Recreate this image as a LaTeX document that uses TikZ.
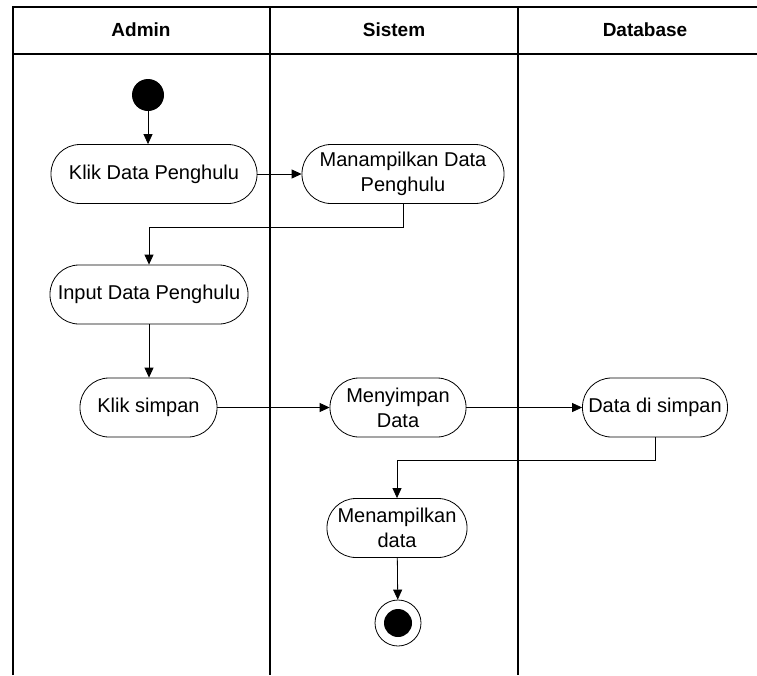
\documentclass[tikz,border=0pt]{standalone}
\usepackage{fontspec}
\setmainfont{Liberation Sans}
\usetikzlibrary{arrows.meta}
\begin{document}
\begin{tikzpicture}[x=1pt,y=-1pt,
  act/.style={draw, line width=0.8pt, rounded corners=29pt, minimum height=59pt, inner sep=0pt, align=center, font=\fontsize{20}{25}\selectfont},
  flow/.style={draw, line width=0.8pt, -{Triangle[length=10pt,width=9pt]}},
  lane/.style={line width=1.1pt},
  hdr/.style={font=\bfseries\fontsize{19}{22}\selectfont}]
\useasboundingbox (0,0) rectangle (757,675);
\fill[white] (0,0) rectangle (757,675);
\draw[lane] (13,675) -- (13,7) -- (757,7);
\draw[lane] (13,54) -- (757,54);
\draw[lane] (270,7) -- (270,675);
\draw[lane] (518,7) -- (518,675);
\node[hdr] (hA) at (141,30) {Admin};
\node[hdr] (hS) at (394,30) {Sistem};
\node[hdr] (hD) at (645,30) {Database};
\node[circle, fill, minimum size=32pt, inner sep=0pt] (start) at (148,95) {};
\node[act, minimum width=206pt] (klik) at (154,174) {Klik Data Penghulu};
\node[act, minimum width=202pt] (tampil) at (403,174) {Manampilkan Data\\Penghulu};
\node[act, minimum width=198pt] (input) at (149,294.5) {Input Data Penghulu};
\node[act, minimum width=137pt] (simpan) at (148.5,407.5) {Klik simpan};
\node[act, minimum width=136pt] (menyimpan) at (398,407.5) {Menyimpan\\Data};
\node[act, minimum width=145pt] (disimpan) at (655,407.5) {Data di simpan};
\node[act, minimum width=140pt] (hasil) at (397,528) {Menampilkan\\data};
\node[circle, draw, line width=0.8pt, minimum size=46pt, inner sep=0pt] (end) at (398,623) {};
\node[circle, fill, minimum size=28pt, inner sep=0pt] (endin) at (end) {};
\draw[flow] (start) -- (start |- klik.north);
\draw[flow] (klik) -- (tampil);
\draw[flow] (tampil.south) -- ++(0,23) -| (input.north);
\draw[flow] (input.south) -- (input.south |- simpan.north);
\draw[flow] (simpan) -- (menyimpan);
\draw[flow] (menyimpan) -- (disimpan);
\draw[flow] (disimpan.south) -- ++(0,23) -| (hasil.north);
\draw[flow] (hasil) -- (end);
\end{tikzpicture}
\end{document}
